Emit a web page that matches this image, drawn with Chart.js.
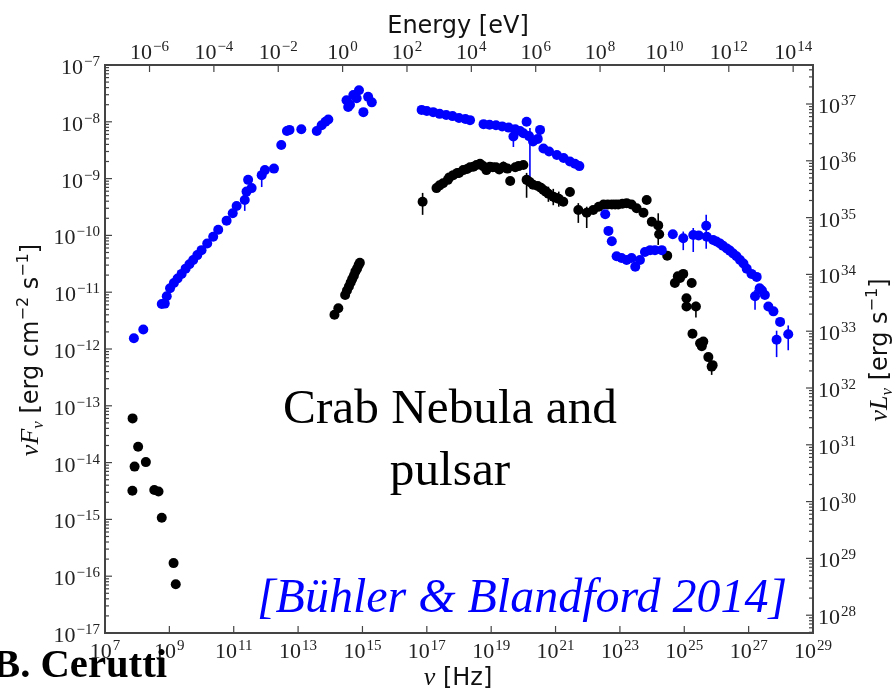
<!DOCTYPE html>
<html>
<head>
<meta charset="utf-8">
<script src="https://cdn.jsdelivr.net/npm/chart.js@4.4.1/dist/chart.umd.min.js"></script>
<style>
  body { margin: 0; background: #fff; }
</style>
</head>
<body>
<canvas id="canvas" width="896" height="693"></canvas>
<script>
// Crab nebula (blue) and Crab pulsar (black) SED, nu F_nu vs nu
var hPlanck = 4.1357e-15;   // eV s, for the top energy axis
var lumFactor = 4.86e44;    // 4 pi d^2 in cm^2, for the right nu L_nu axis

var nebulaNu = [7.9e7, 1.55e8, 5.8e8, 7.2e8, 8.3e8, 1.05e9, 1.38e9, 1.8e9, 2.4e9, 3.2e9,
  4.2e9, 5.5e9, 7.4e9, 1.0e10, 1.5e10, 2.3e10, 3.3e10, 6.0e10, 9.3e10, 1.23e11,
  2.2e11, 2.5e11, 3.6e11, 2.8e11, 7.4e11, 9.3e11, 1.78e12, 3.0e12, 4.5e12, 5.4e12,
  1.26e13, 3.8e13, 5.4e13, 7.1e13, 8.7e13, 3.2e14, 3.6e14, 4.1e14, 5.2e14, 6.6e14,
  7.8e14, 1.07e15, 1.5e15, 1.95e15,
  6.9e16, 1.0e17, 1.58e17, 2.5e17, 4.0e17, 6.3e17, 1.0e18, 1.58e18, 2.2e18,
  5.8e18, 8.9e18, 1.41e19, 2.2e19, 3.5e19, 5.6e19, 4.9e19, 7.9e19, 1.0e20,
  1.26e20, 1.5e20, 2.0e20, 2.8e20, 3.3e20, 4.2e20, 6.3e20, 1.1e21, 1.78e21, 2.8e21, 4.0e21, 5.5e21,
  3.5e22, 4.4e22, 5.6e22, 7.9e22, 1.12e23, 1.62e23, 2.3e23, 3.0e23, 4.2e23, 6.0e23,
  8.7e23, 1.23e24, 2.0e24, 4.4e24, 9.3e24, 1.9e25, 2.8e25, 4.8e25, 5.0e25, 7.9e25,
  1.29e26, 2.1e26, 3.3e26, 5.4e26, 8.7e26, 1.23e27, 1.78e27, 2.2e27, 3.2e27, 1.58e27,
  4.1e27, 5.9e27, 9.5e27, 7.4e27, 1.7e28,
  1.0e26, 1.58e26, 2.6e26, 4.2e26, 6.9e26, 2.6e27];
var nebulaFlux = [1.55e-12, 2.2e-12, 6.2e-12, 6.3e-12, 8.5e-12, 1.17e-11, 1.45e-11, 1.74e-11, 2.1e-11, 2.6e-11,
  3.1e-11, 3.7e-11, 4.5e-11, 5.5e-11, 7.2e-11, 9.5e-11, 1.26e-10, 1.82e-10, 2.45e-10, 3.3e-10,
  4.2e-10, 5.9e-10, 6.8e-10, 9.5e-10, 1.15e-9, 1.41e-9, 1.5e-9, 3.9e-9, 6.9e-9, 7.2e-9,
  7.4e-9, 6.9e-9, 8.7e-9, 1.0e-8, 1.1e-8, 2.4e-8, 1.82e-8, 2.0e-8, 2.95e-8, 2.6e-8,
  3.6e-8, 1.48e-8, 2.75e-8, 2.2e-8,
  1.62e-8, 1.55e-8, 1.48e-8, 1.38e-8, 1.32e-8, 1.26e-8, 1.17e-8, 1.12e-8, 1.07e-8,
  9.1e-9, 8.9e-9, 8.7e-9, 8.3e-9, 7.9e-9, 7.4e-9, 5.5e-9, 6.9e-9, 6.3e-9,
  1.0e-8, 5.6e-9, 4.5e-9, 5.0e-9, 7.2e-9, 3.4e-9, 3.0e-9, 2.6e-9, 2.3e-9, 2.0e-9, 1.82e-9, 1.66e-9,
  2.35e-10, 1.2e-10, 7.9e-11, 4.3e-11, 4.0e-11, 3.7e-11, 4.0e-11, 2.8e-11, 3.7e-11, 5.1e-11,
  5.5e-11, 5.5e-11, 5.5e-11, 1.05e-10, 8.9e-11, 1.02e-10, 1.0e-10, 1.48e-10, 9.5e-11, 8.3e-11,
  7.2e-11, 5.9e-11, 4.8e-11, 3.7e-11, 2.6e-11, 2.1e-11, 1.86e-11, 1.17e-11, 8.9e-12, 8.5e-12,
  5.6e-12, 4.6e-12, 3.0e-12, 1.45e-12, 1.82e-12,
  7.8e-11, 6.6e-11, 5.4e-11, 4.3e-11, 3.2e-11, 1.07e-11];

var pulsarNu = [7.2e7, 1.07e8, 8.3e7, 1.86e8, 7.1e7, 3.4e8, 4.6e8, 5.8e8, 1.35e9, 1.58e9,
  1.35e14, 1.78e14, 2.9e14, 3.3e14, 3.8e14, 4.3e14, 4.8e14, 5.4e14, 6.0e14, 6.8e14, 7.6e14, 8.3e14,
  7.4e16, 2.0e17, 3.2e17, 4.5e17, 6.6e17, 8.9e17, 1.35e18, 2.2e18, 3.5e18, 5.6e18,
  9.1e18, 1.41e19, 2.4e19, 3.9e19, 5.6e19, 1.0e20, 1.26e20, 2.0e20, 2.8e20, 4.2e20,
  6.0e20, 8.5e20, 1.26e21, 1.74e21, 2.8e21, 5.1e21, 9.3e21, 1.48e22, 2.2e22, 3.1e22,
  4.2e22, 5.6e22, 7.1e22, 8.9e22, 1.2e23, 1.62e23, 2.3e23, 3.3e23, 5.4e23, 6.8e23,
  9.8e23, 1.55e24, 1.66e24, 2.95e24, 5.1e24, 6.3e24, 7.4e24, 9.3e24, 1.17e25, 1.17e25,
  1.7e25, 2.3e25, 1.8e25, 3.1e25, 3.9e25, 3.5e25, 5.6e25, 7.1e25, 7.6e25,
  2.5e17, 5.0e17, 1.0e18, 1.78e18, 2.8e18, 4.5e18, 7.1e18, 1.12e19, 1.78e19, 3.2e19, 7.1e19,
  1.58e20, 3.5e20, 5.0e20, 1.0e21];
var pulsarFlux = [6.0e-14, 1.9e-14, 8.5e-15, 1.02e-14, 3.2e-15, 3.3e-15, 3.1e-15, 1.07e-15, 1.7e-16, 7.2e-17,
  4.0e-12, 5.2e-12, 8.9e-12, 1.07e-11, 1.26e-11, 1.48e-11, 1.7e-11, 1.95e-11, 2.3e-11, 2.6e-11, 3.0e-11, 3.3e-11,
  3.9e-10, 6.8e-10, 8.3e-10, 9.5e-10, 1.15e-9, 1.26e-9, 1.41e-9, 1.58e-9, 1.74e-9, 1.66e-9,
  1.62e-9, 1.58e-9, 1.62e-9, 9.1e-10, 1.58e-9, 1.74e-9, 9.5e-10, 7.8e-10, 7.4e-10, 6.3e-10,
  5.4e-10, 4.8e-10, 4.4e-10, 3.9e-10, 5.8e-10, 2.8e-10, 2.5e-10, 2.8e-10, 3.2e-10, 3.5e-10,
  3.5e-10, 3.5e-10, 3.5e-10, 3.5e-10, 3.6e-10, 3.7e-10, 3.5e-10, 3.0e-10, 2.5e-10, 4.2e-10,
  1.74e-10, 1.5e-10, 1.05e-10, 4.4e-11, 1.45e-11, 1.9e-11, 1.78e-11, 2.1e-11, 7.8e-12, 5.6e-12,
  1.45e-11, 5.6e-12, 1.86e-12, 1.26e-12, 1.35e-12, 1.12e-12, 7.2e-13, 4.9e-13, 5.2e-13,
  7.6e-10, 1.05e-9, 1.26e-9, 1.48e-9, 1.62e-9, 1.82e-9, 1.41e-9, 1.58e-9, 1.45e-9, 1.5e-9, 1.66e-9,
  8.7e-10, 6.9e-10, 5.9e-10, 4.6e-10];

// vertical error bars: frequency, lower and upper flux
var nebulaErrNu = [2.2e11, 7.4e11, 4.9e19, 1.6e20, 3.3e20, 9.3e24, 1.9e25, 4.8e25, 1.58e27, 7.4e27, 1.7e28];
var nebulaErrLow = [2.7e-10, 7.1e-10, 3.6e-9, 7.2e-10, 4.4e-9, 5.5e-11, 5.1e-11, 5.8e-11, 4.9e-12, 7.2e-13, 9.5e-13];
var nebulaErrHigh = [5.1e-10, 1.58e-9, 6.3e-9, 7.8e-9, 8.1e-9, 1.17e-10, 1.35e-10, 2.3e-10, 1.1e-11, 2.1e-12, 2.6e-12];
var pulsarErrNu = [7.4e16, 1.26e20, 2.4e19, 6.0e20, 8.5e20, 1.26e21, 5.1e21, 9.3e21, 1.55e24, 2.3e25, 7.1e25, 1.17e25];
var pulsarErrLow = [2.3e-10, 4.6e-10, 1.3e-9, 3.9e-10, 3.4e-10, 3.2e-10, 1.66e-10, 1.35e-10, 6.8e-11, 3.6e-12, 3.5e-13, 5.0e-12];
var pulsarErrHigh = [5.6e-10, 1.26e-9, 2.0e-9, 7.2e-10, 6.6e-10, 5.9e-10, 3.7e-10, 3.2e-10, 2.45e-10, 6.8e-12, 6.0e-13, 9.0e-12];

var nuTicks = [1e7, 1e9, 1e11, 1e13, 1e15, 1e17, 1e19, 1e21, 1e23, 1e25, 1e27, 1e29];
var energyTicks = [1e-6, 1e-4, 1e-2, 1e0, 1e2, 1e4, 1e6, 1e8, 1e10, 1e12, 1e14];
var fluxTicks = [1e-17, 1e-16, 1e-15, 1e-14, 1e-13, 1e-12, 1e-11, 1e-10, 1e-9, 1e-8, 1e-7];
var lumTicks = [1e28, 1e29, 1e30, 1e31, 1e32, 1e33, 1e34, 1e35, 1e36, 1e37];

var axisColor = '#444';
var serif = '"Liberation Serif", "DejaVu Serif", serif';
var sans = '"DejaVu Sans", sans-serif';

function toPoints(xs, ys) {
  return xs.map(function (x, i) { return { x: x, y: ys[i] }; });
}

function minorValues(min, max) {
  var out = [];
  for (var e = Math.floor(Math.log10(min)); e <= Math.ceil(Math.log10(max)); e++) {
    for (var k = 2; k <= 9; k++) {
      var v = k * Math.pow(10, e);
      if (v > min && v < max) out.push(v);
    }
  }
  return out;
}

function seg(ctx, x1, y1, x2, y2) {
  ctx.beginPath(); ctx.moveTo(x1, y1); ctx.lineTo(x2, y2); ctx.stroke();
}

// "10" with a raised exponent, like matplotlib's log labels
function powLabel(ctx, v, x, y, align) {
  var e = Math.round(Math.log10(v));
  var sup = (e < 0 ? '\u2212' : '') + Math.abs(e);
  ctx.font = '22px ' + serif;
  var wb = ctx.measureText('10').width;
  ctx.font = '15px ' + serif;
  var ws = ctx.measureText(sup).width;
  var w = wb + ws + 1;
  var x0 = align === 'center' ? x - w / 2 : (align === 'right' ? x - w : x);
  ctx.textAlign = 'left';
  ctx.font = '22px ' + serif;
  ctx.fillText('10', x0, y);
  ctx.font = '15px ' + serif;
  ctx.fillText(sup, x0 + wb + 1, y - 8);
}

// a run of text pieces with their own fonts and offsets, centered on x
function richText(ctx, parts, x, y) {
  var w = 0;
  parts.forEach(function (p) { ctx.font = p.f; p.w = ctx.measureText(p.t).width; w += p.w; });
  var cx = x - w / 2;
  ctx.textAlign = 'left';
  parts.forEach(function (p) { ctx.font = p.f; ctx.fillText(p.t, cx, y + (p.dy || 0)); cx += p.w; });
}

function fitFont(ctx, text, style, family, width) {
  ctx.font = style + ' 100px ' + family;
  return style + ' ' + (100 * width / ctx.measureText(text).width).toFixed(1) + 'px ' + family;
}

function errorBars(ctx, s, xs, lo, hi, color) {
  ctx.strokeStyle = color;
  ctx.lineWidth = 1.6;
  xs.forEach(function (x, i) {
    var px = s.x.getPixelForValue(x);
    seg(ctx, px, s.y.getPixelForValue(lo[i]), px, s.y.getPixelForValue(hi[i]));
  });
}

var sedDecor = {
  id: 'sedDecor',
  beforeDatasetsDraw: function (chart) {
    var ctx = chart.ctx, s = chart.scales;
    ctx.save();
    errorBars(ctx, s, pulsarErrNu, pulsarErrLow, pulsarErrHigh, '#000');
    errorBars(ctx, s, nebulaErrNu, nebulaErrLow, nebulaErrHigh, '#0000ff');
    ctx.restore();
  },
  afterDraw: function (chart) {
    var ctx = chart.ctx, a = chart.chartArea, s = chart.scales;
    ctx.save();

    // inward ticks
    ctx.strokeStyle = axisColor;
    ctx.lineWidth = 1.2;
    s.y.ticks.forEach(function (t) { var p = s.y.getPixelForValue(t.value); seg(ctx, a.left, p, a.left + 7, p); });
    minorValues(s.y.min, s.y.max).forEach(function (v) { var p = s.y.getPixelForValue(v); seg(ctx, a.left, p, a.left + 4, p); });
    s.yRight.ticks.forEach(function (t) { var p = s.yRight.getPixelForValue(t.value); seg(ctx, a.right, p, a.right - 7, p); });
    minorValues(s.yRight.min, s.yRight.max).forEach(function (v) { var p = s.yRight.getPixelForValue(v); seg(ctx, a.right, p, a.right - 4, p); });
    s.x.ticks.forEach(function (t) { var p = s.x.getPixelForValue(t.value); seg(ctx, p, a.bottom, p, a.bottom - 7); });
    s.xTop.ticks.forEach(function (t) { var p = s.xTop.getPixelForValue(t.value); seg(ctx, p, a.top, p, a.top + 7); });

    // tick labels
    ctx.fillStyle = '#222';
    ctx.textBaseline = 'alphabetic';
    s.y.ticks.forEach(function (t) { powLabel(ctx, t.value, a.left - 5, s.y.getPixelForValue(t.value) + 9, 'right'); });
    s.yRight.ticks.forEach(function (t) { powLabel(ctx, t.value, a.right + 5, s.yRight.getPixelForValue(t.value) + 9, 'left'); });
    s.x.ticks.forEach(function (t) { powLabel(ctx, t.value, s.x.getPixelForValue(t.value), a.bottom + 25, 'center'); });
    s.xTop.ticks.forEach(function (t) { powLabel(ctx, t.value, s.xTop.getPixelForValue(t.value), a.top - 6, 'center'); });

    // axis titles
    var mIt = 'italic 26px ' + serif, mSub = 'italic 17px ' + serif;
    var tx = '24px ' + sans, tSup = '16px ' + sans;
    ctx.fillStyle = '#111';
    richText(ctx, [{ t: 'Energy [eV]', f: tx }], 458, 33);
    richText(ctx, [{ t: '\u03bd', f: mIt }, { t: ' [Hz]', f: tx }], 458, 685);

    ctx.save();
    ctx.translate(38, 350);
    ctx.rotate(-Math.PI / 2);
    richText(ctx, [{ t: '\u03bd', f: mIt }, { t: 'F', f: mIt }, { t: '\u03bd', f: mSub, dy: 5 },
      { t: ' [erg cm', f: tx }, { t: '\u22122', f: tSup, dy: -10 }, { t: ' s', f: tx },
      { t: '\u22121', f: tSup, dy: -10 }, { t: ']', f: tx }], 0, 0);
    ctx.restore();

    ctx.save();
    ctx.translate(887, 350);
    ctx.rotate(-Math.PI / 2);
    richText(ctx, [{ t: '\u03bd', f: mIt }, { t: 'L', f: mIt }, { t: '\u03bd', f: mSub, dy: 5 },
      { t: ' [erg s', f: tx }, { t: '\u22121', f: tSup, dy: -10 }, { t: ']', f: tx }], 0, 0);
    ctx.restore();

    // annotations
    ctx.fillStyle = '#000';
    var big = fitFont(ctx, 'Crab Nebula and', '', serif, 334);
    richText(ctx, [{ t: 'Crab Nebula and', f: big }], 450, 423);
    richText(ctx, [{ t: 'pulsar', f: big }], 450, 485);

    ctx.fillStyle = '#0000ff';
    var cite = '[B\u00fchler & Blandford 2014]';
    richText(ctx, [{ t: cite, f: fitFont(ctx, cite, 'italic', serif, 530) }], 522, 612);

    ctx.fillStyle = '#000';
    richText(ctx, [{ t: 'B. Cerutti', f: fitFont(ctx, 'B. Cerutti', 'bold', serif, 174) }], 80, 677);

    ctx.restore();
  }
};

function logAxis(position, min, max, tickValues, size) {
  return {
    type: 'logarithmic',
    position: position,
    min: min,
    max: max,
    grid: { display: false },
    ticks: { display: false },
    border: { display: true, color: axisColor, width: 2 },
    afterBuildTicks: function (scale) {
      scale.ticks = tickValues.map(function (v) { return { value: v }; });
    },
    afterFit: function (scale) {
      if (position === 'left' || position === 'right') scale.width = size;
      else scale.height = size;
    }
  };
}

var ctx = document.getElementById('canvas').getContext('2d');
var chart = new Chart(ctx, {
  type: 'scatter',
  data: {
    datasets: [{
      label: 'Crab Nebula',
      data: toPoints(nebulaNu, nebulaFlux),
      backgroundColor: '#0000ff',
      borderWidth: 0,
      pointRadius: 5,
      xAxisID: 'x',
      yAxisID: 'y'
    }, {
      label: 'Crab pulsar',
      data: toPoints(pulsarNu, pulsarFlux),
      backgroundColor: '#000000',
      borderWidth: 0,
      pointRadius: 5,
      xAxisID: 'x',
      yAxisID: 'y'
    }]
  },
  options: {
    responsive: false,
    animation: false,
    events: [],
    layout: { padding: 0 },
    plugins: { legend: { display: false }, tooltip: { enabled: false } },
    scales: {
      x: logAxis('bottom', 1e7, 1e29, nuTicks, 60),
      xTop: logAxis('top', 1e7 * hPlanck, 1e29 * hPlanck, energyTicks, 65),
      y: logAxis('left', 1e-17, 1e-7, fluxTicks, 105),
      yRight: logAxis('right', 1e-17 * lumFactor, 1e-7 * lumFactor, lumTicks, 83)
    }
  },
  plugins: [sedDecor]
});
</script>
</body>
</html>
